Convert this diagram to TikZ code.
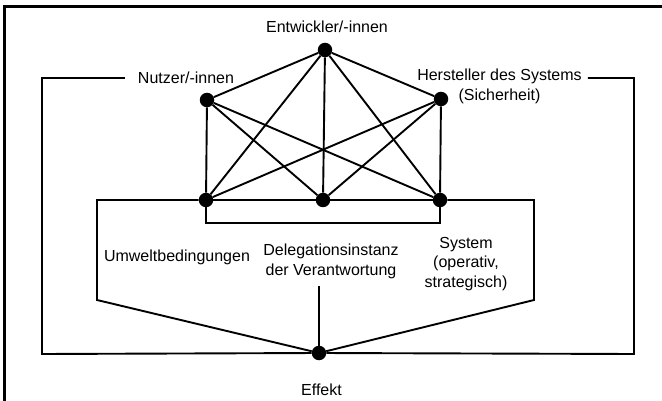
\documentclass[tikz,border=0pt]{standalone}
\usepackage{fontspec}
\setmainfont{Liberation Sans}
\usetikzlibrary{positioning,calc}
\tikzstyle{dot} = [circle, fill=black, inner sep=0pt,
		minimum size=14.5pt]
\tikzstyle{lbl} = [anchor=center, align=center,
		font=\fontsize{16}{19.5}\selectfont,
		inner sep=3pt]
\tikzstyle{conn} = [line width=1.9pt]

\begin{document}
\begin{tikzpicture}[x=1pt,y=-1pt]
	\useasboundingbox (0,0) rectangle (662,401);
	\draw[line width=3pt] (4.5,401) -- (4.5,6.5) -- (662,6.5);

	% actors
	\node[dot] (E) at (325,50) {};
	\node[dot] (N) at (207,100) {};
	\node[dot] (H) at (441,99) {};
	\node[dot] (L) at (206,200) {};
	\node[dot] (M) at (323,200) {};
	\node[dot] (R) at (440,200) {};
	\node[dot] (eff) at (319,353) {};

	\node[lbl] (entw) at (327,27) {Entwickler/-innen};
	\node[lbl, inner xsep=13pt] (nutz) at (186,78) {Nutzer/-innen};
	\node[lbl, inner xsep=6pt] (herst) at (499.5,86.5) {Hersteller des Systems\\(Sicherheit)};
	\node[lbl] (umw) at (177,257) {Umweltbedingungen};
	\node[lbl, inner ysep=7pt] (deleg) at (331,261.5) {Delegationsinstanz\\der Verantwortung};
	\node[lbl] (sys) at (466,264) {System\\(operativ,\\strategisch)};
	\node[lbl] (effl) at (321.5,390) {Effekt};

	\coordinate (ol) at (42,78);
	\coordinate (or) at (634,78);
	\coordinate (ul) at (42,354);
	\coordinate (ur) at (634,354);
	\coordinate (bl) at (97,300);
	\coordinate (br) at (534,300);
	\coordinate (rb) at (440,223);

	% network
	\foreach \a/\b in {E/N,E/H,E/L,E/M,E/R,N/L,N/M,N/R,H/L,H/M,H/R,L/M,M/R}
		\draw[conn] (\a) -- (\b);
	\draw[conn] (L) |- (rb) -- (R);

	% brackets to the effect
	\draw[conn] (L) -- (L -| bl) -- (bl) -- (eff);
	\draw[conn] (R) -- (R -| br) -- (br) -- (eff);
	\draw[conn] (eff) -- (eff |- deleg.south);
	\draw[conn] (nutz.west) -- (ol) -- (ul) -- (eff) -- (ur) -- (or) -- (herst.east |- or);
\end{tikzpicture}
\end{document}
